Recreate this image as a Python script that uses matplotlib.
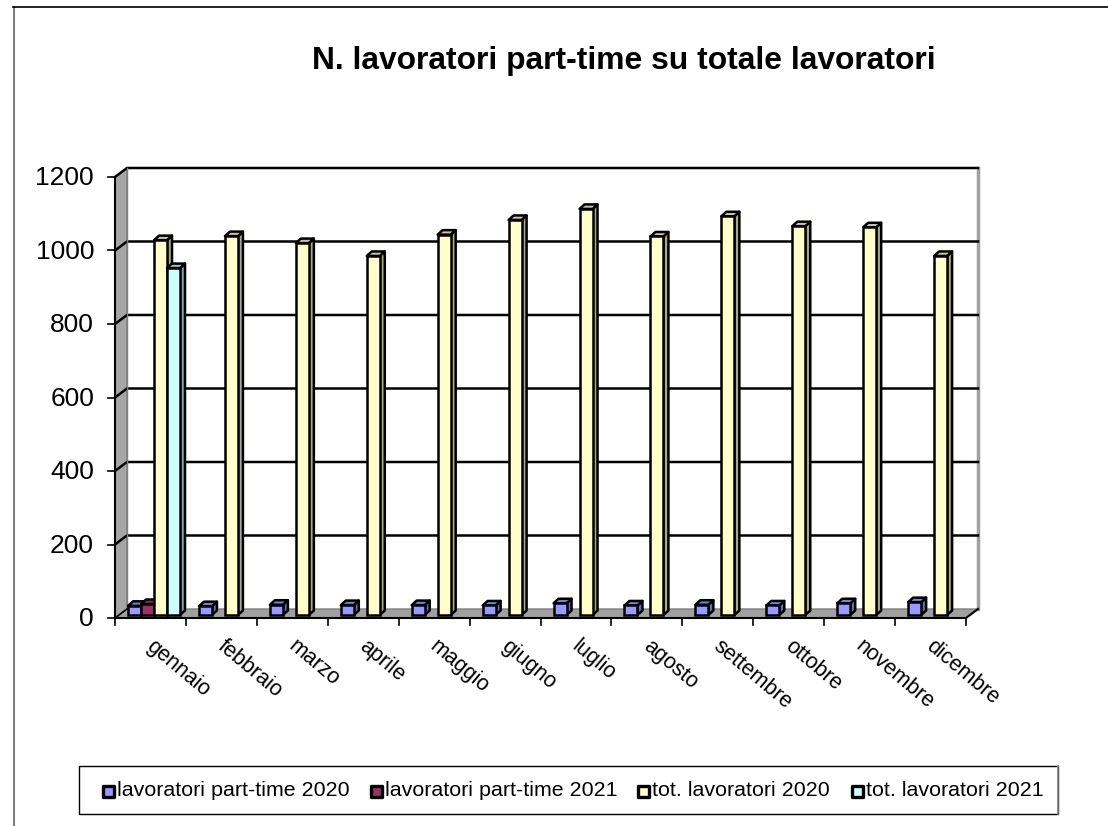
import numpy as np
import matplotlib
matplotlib.use('Agg')
import matplotlib.pyplot as plt
from matplotlib.patches import Polygon, Rectangle

plt.rcParams['font.family'] = ['Liberation Sans', 'DejaVu Sans']

months = ['gennaio', 'febbraio', 'marzo', 'aprile', 'maggio', 'giugno',
          'luglio', 'agosto', 'settembre', 'ottobre', 'novembre', 'dicembre']
part_2020 = [25, 24, 28, 27, 27, 26, 32, 26, 28, 26, 32, 35]
part_2021 = [30, 0, 0, 0, 0, 0, 0, 0, 0, 0, 0, 0]
tot_2020 = [1020, 1031, 1012, 977, 1035, 1075, 1105, 1030, 1085, 1058, 1055, 977]
tot_2021 = [944, 0, 0, 0, 0, 0, 0, 0, 0, 0, 0, 0]
series_names = ['lavoratori part-time 2020', 'lavoratori part-time 2021',
                'tot. lavoratori 2020', 'tot. lavoratori 2021']
series = [part_2020, part_2021, tot_2020, tot_2021]
faces = ['#9999ff', '#993366', '#ffffcc', '#ccffff']
sides = ['#6b6bb3', '#6b2447', '#a8a88a', '#80a6a6']
tops = ['#8080d5', '#802b55', '#c8c8a0', '#9cc4c4']
y_ticks = [0, 200, 400, 600, 800, 1000, 1200]

W, H = 1108, 826
fig = plt.figure(figsize=(W / 100, H / 100), dpi=100)

# figure-level frame, in pixels
bg = fig.add_axes([0, 0, 1, 1])
bg.set_xlim(0, W)
bg.set_ylim(H, 0)
bg.axis('off')
bg.plot([13.5, 13.5], [7, H], color='#808080', lw=1.5)
bg.plot([13, W], [7, 7], color='black', lw=1.2)
bg.add_patch(Rectangle((79, 766), 979, 48, fc='white', ec='black', lw=1))
bg.plot([1058, 1058], [766, 814], color='#808080', lw=1.2)
bg.text(624, 61.5, 'N. lavoratori part-time su totale lavoratori', fontsize=22.9,
        fontweight='bold', ha='center', va='center')

# front plane of the 3d box
x0, x1, y0, y1 = 115, 966, 618, 177
ax = fig.add_axes([x0 / W, 1 - y0 / H, (x1 - x0) / W, (y0 - y1) / H])
ax.set_xlim(0, 12)
ax.set_ylim(0, 1200)
ax.patch.set_alpha(0)
for s in ax.spines.values():
    s.set_visible(False)
ax.set_xticks([])
ax.set_yticks([])

dx = 12 / 71.0   # 12 px of depth
dy = 9 / 0.3675  # 9 px of depth

# walls
ax.add_patch(Polygon([(0, 0), (dx, dy), (dx, 1200 + dy), (0, 1200)], fc='#a6a6a6', ec='#808080', lw=1, clip_on=False, zorder=1))
ax.add_patch(Polygon([(0, 0), (dx, dy), (12 + dx, dy), (12, 0)], fc='#a0a0a0', ec='#808080', lw=1, clip_on=False, zorder=1))
ax.plot([12 + dx, 12 + dx], [dy, 1200 + dy], color='#a0a0a0', lw=2.5, clip_on=False, zorder=1)

# gridlines go along the back wall and the side wall
for t in y_ticks[1:]:
    ax.plot([0, dx, 12 + dx], [t, t + dy, t + dy], color='black', lw=1.8, clip_on=False, zorder=2)
ax.plot([dx, dx], [dy, 1200 + dy], color='#808080', lw=1, clip_on=False, zorder=2)

# axis lines and ticks
ax.plot([0, 0], [0, 1200], color='black', lw=1.5, clip_on=False, zorder=3)
ax.plot([0, 12], [0, 0], color='black', lw=1.5, clip_on=False, zorder=3)
ax.plot([12, 12 + dx], [0, dy], color='black', lw=1.5, clip_on=False, zorder=3)
ax.plot([0, dx], [0, dy], color='black', lw=1.2, clip_on=False, zorder=3)
for t in y_ticks:
    ax.plot([-7 / 71, 0], [t, t], color='black', lw=1.2, clip_on=False, zorder=3)
    ax.text(-21 / 71, t - 3, str(t), fontsize=19, ha='right', va='center')
for i in range(13):
    ax.plot([i, i], [0, -18], color='black', lw=1.2, clip_on=False, zorder=3)
for i, m in enumerate(months):
    ax.text(i + 0.48, -70, m, fontsize=15.5, rotation=-40, rotation_mode='anchor',
            ha='left', va='center')

# bars
bw = 13 / 71.0
start = 0.135
ox, oy = 3.5 / 71.0, 3 / 0.3675
bdx, bdy = 5 / 71.0, 4.5 / 0.3675
for j, vals in enumerate(series):
    for i, v in enumerate(vals):
        if v == 0:
            continue
        l = i + start + j * bw + ox
        r = l + bw
        b = oy
        t = v + oy
        z = 5 + i + (j * 0.1)
        ax.add_patch(Polygon([(r, b), (r + bdx, b + bdy), (r + bdx, t + bdy), (r, t)],
                             fc=sides[j], ec='black', lw=1.8, joinstyle='round', clip_on=False, zorder=z))
        ax.add_patch(Polygon([(l, t), (l + bdx, t + bdy), (r + bdx, t + bdy), (r, t)],
                             fc=tops[j], ec='black', lw=1.8, joinstyle='round', clip_on=False, zorder=z))
        ax.add_patch(Rectangle((l, b), bw, v, fc=faces[j], ec='black', lw=1.8, clip_on=False, zorder=z))

# legend, drawn by hand to keep the boxes tight
key_x = [102.5, 370.5, 638, 851.5]
for name, kx, fc in zip(series_names, key_x, faces):
    bg.add_patch(Rectangle((kx, 785.5), 11, 11, fc=fc, ec='black', lw=2.4, joinstyle='round', zorder=5))
    bg.text(kx + 14.5, 790.5, name, fontsize=15.4, ha='left', va='center')

fig.savefig('out.png', dpi=100)
